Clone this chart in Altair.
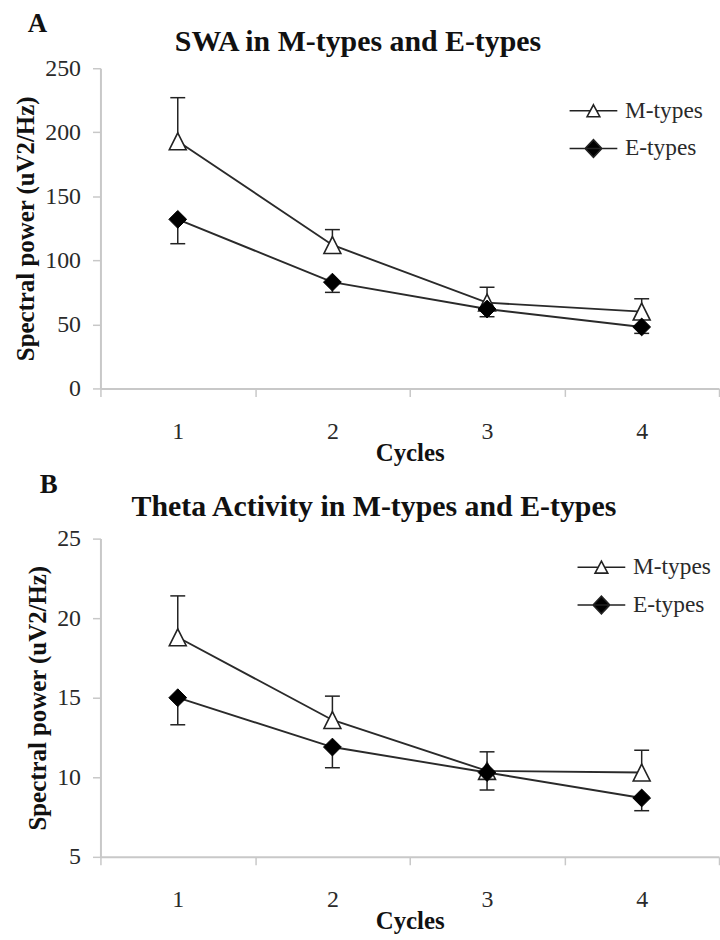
import altair as alt
import pandas as pd

cycles = ["1", "2", "3", "4"]
series_names = ["M-types", "E-types"]

swa_m = [193, 112, 67, 60]
swa_m_hi = [227, 124, 79, 70]
swa_e = [132, 83, 62, 48]
swa_e_lo = [113, 75, 56, 43]

theta_m = [18.8, 13.6, 10.4, 10.3]
theta_m_hi = [21.4, 15.1, 11.6, 11.7]
theta_e = [15.0, 11.9, 10.3, 8.7]
theta_e_lo = [13.3, 10.6, 9.2, 7.9]

FONT = "Liberation Serif"
INK = "#222222"
AXIS_GRAY = "#c8c8c8"

TRI = "M0,-1L1,1L-1,1Z"
LEG_TRI = "M-3,0H-0.4M0.4,0H3M0,-0.75L0.8,0.75L-0.8,0.75Z"
LEG_DIA = "M-3,0H3M-1.05,0L0,-1.1L1.05,0L0,1.1Z"


def make_df(m, m_err, e, e_err):
    rows = []
    for c, v, r in zip(cycles, m, m_err):
        rows.append({"cycle": c, "series": "M-types", "value": v, "err": r})
    for c, v, r in zip(cycles, e, e_err):
        rows.append({"cycle": c, "series": "E-types", "value": v, "err": r})
    return pd.DataFrame(rows)


def make_panel(df, title, title_dx, title_offset, ydom, ystep, height,
               leg_x, leg_y, row_pad):
    x = alt.X(
        "cycle:O",
        bandPosition=0.5,
        scale=alt.Scale(type="band", domain=cycles, paddingInner=0, paddingOuter=0),
        axis=alt.Axis(
            title="Cycles",
            tickBand="extent",
            labelAngle=0,
            labelPadding=23,
            titlePadding=-3,
        ),
    )
    y = alt.Y(
        "value:Q",
        scale=alt.Scale(domain=ydom, nice=False, zero=False),
        axis=alt.Axis(
            title="Spectral power (uV2/Hz)",
            values=list(range(ydom[0], ydom[1] + 1, ystep)),
            grid=False,
            labelPadding=12,
            titlePadding=6,
        ),
    )
    base = alt.Chart(df)
    rules = base.mark_rule(color=INK, strokeWidth=1.5).encode(x=x, y=y, y2="err:Q")
    caps = base.mark_tick(color=INK, thickness=1.5, size=15, opacity=1).encode(
        x=x, y=alt.Y("err:Q")
    )
    lines = base.mark_line(color="#2a2a2a", strokeWidth=1.9).encode(
        x=x, y=y, detail="series:N"
    )
    pts_m = (
        base.transform_filter(alt.datum.series == "M-types")
        .mark_point(shape=TRI, size=289, filled=True, fill="white",
                    stroke=INK, strokeWidth=1.6, opacity=1)
        .encode(x=x, y=y)
    )
    pts_e = (
        base.transform_filter(alt.datum.series == "E-types")
        .mark_point(shape="diamond", size=320, filled=True, fill="black",
                    stroke="black", strokeWidth=1, opacity=1)
        .encode(x=x, y=y)
    )
    leg = alt.Legend(
        orient="none", legendX=leg_x, legendY=leg_y, title=None,
        symbolSize=256, symbolStrokeWidth=1.6,
        symbolOpacity=1, labelFont=FONT, labelFontSize=23.5, labelColor="#2a2a2a",
        labelOffset=20, rowPadding=row_pad, padding=0,
    )
    # legend-only layer: draws no marks, only supplies the legend
    legend_layer = (
        base.transform_filter("false")
        .mark_point(filled=True, strokeWidth=1.6, opacity=1)
        .encode(
            x=x, y=y,
            shape=alt.Shape("series:N",
                            scale=alt.Scale(domain=series_names, range=[LEG_TRI, LEG_DIA]),
                            legend=leg),
            fill=alt.Fill("series:N",
                          scale=alt.Scale(domain=series_names, range=["white", "black"]),
                          legend=leg),
            stroke=alt.Stroke("series:N",
                              scale=alt.Scale(domain=series_names, range=[INK, INK]),
                              legend=leg),
        )
    )
    return alt.layer(rules, caps, lines, pts_m, pts_e, legend_layer).properties(
        width=622,
        height=height,
        title=alt.TitleParams(
            text=title, font=FONT, fontSize=30, fontWeight="bold",
            anchor="middle", dx=title_dx, color="#111111", offset=title_offset,
        ),
    )


panel_a = make_panel(make_df(swa_m, swa_m_hi, swa_e, swa_e_lo),
                     "SWA in M-types and E-types", -52, -1, [0, 250], 50, 322,
                     484, 31, 13)
panel_b = make_panel(make_df(theta_m, theta_m_hi, theta_e, theta_e_lo),
                     "Theta Activity in M-types and E-types", -36, 5, [5, 25], 5, 320,
                     492, 17, 13)


def lettered(panel, letter, offset):
    return alt.vconcat(
        panel,
        title=alt.TitleParams(text=letter, anchor="start", font=FONT, fontSize=27,
                              fontWeight="bold", color="#111111", offset=offset, dx=14),
    )


chart = (
    alt.vconcat(lettered(panel_a, "A", -11), lettered(panel_b, "B", -7), spacing=6)
    .resolve_scale(shape="independent", fill="independent", stroke="independent")
    .properties(padding={"left": 14, "top": 8, "right": 0, "bottom": 0})
    .configure_view(stroke=None)
    .configure_axis(
        labelFont=FONT, labelFontSize=24, labelColor="#2a2a2a",
        titleFont=FONT, titleFontSize=25, titleFontWeight="bold", titleColor="#111111",
        domainColor=AXIS_GRAY, domainWidth=2, tickColor=AXIS_GRAY, tickSize=8,
        tickWidth=1.5,
    )
)

chart.save("out.html", embed_options={"renderer": "svg", "actions": False})
